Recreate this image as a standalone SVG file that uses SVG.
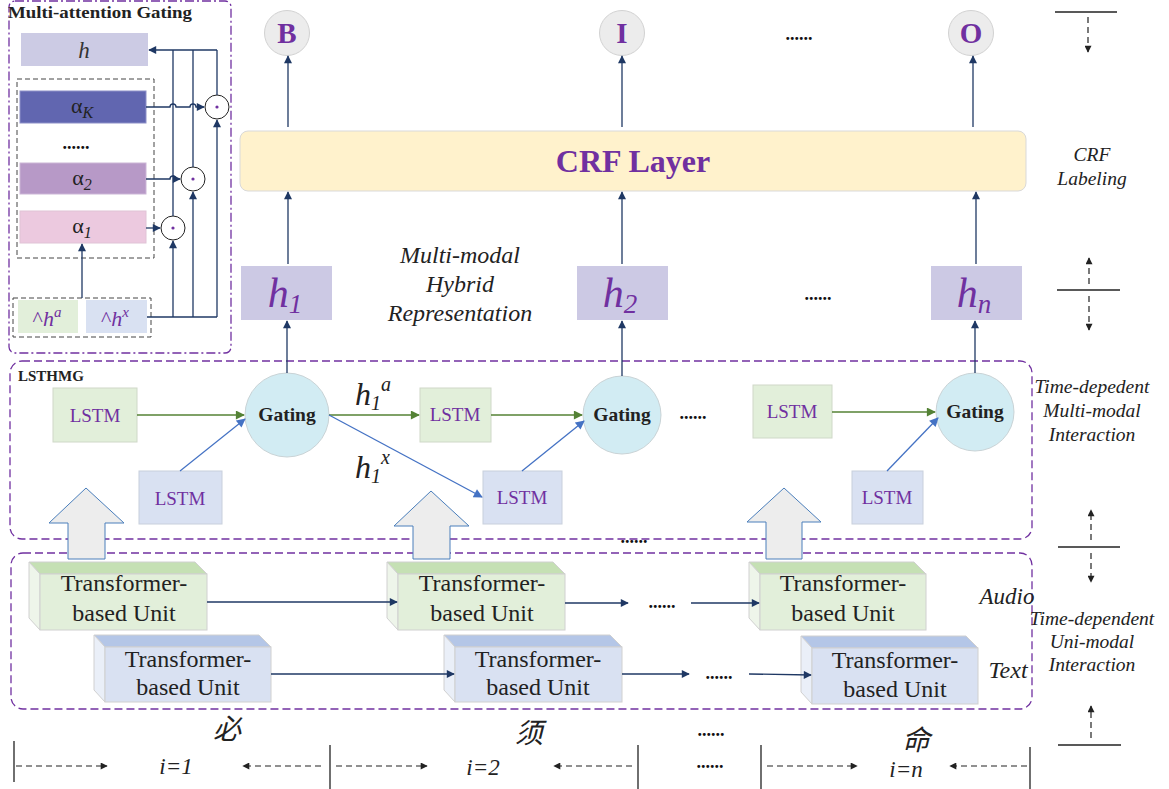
<svg xmlns="http://www.w3.org/2000/svg" width="1169" height="789" viewBox="0 0 1169 789">
<defs>
<marker id="aN" viewBox="0 0 10 10" refX="9" refY="5" markerWidth="9" markerHeight="8" markerUnits="userSpaceOnUse" orient="auto"><path d="M0,0 L10,5 L0,10 z" fill="#1f3864"/></marker>
<marker id="aG" viewBox="0 0 10 10" refX="9" refY="5" markerWidth="10" markerHeight="9" markerUnits="userSpaceOnUse" orient="auto"><path d="M0,0 L10,5 L0,10 z" fill="#548235"/></marker>
<marker id="aB" viewBox="0 0 10 10" refX="9" refY="5" markerWidth="10" markerHeight="9" markerUnits="userSpaceOnUse" orient="auto"><path d="M0,0 L10,5 L0,10 z" fill="#4472c4"/></marker>
<marker id="aK" viewBox="0 0 10 10" refX="9" refY="5" markerWidth="8" markerHeight="7" markerUnits="userSpaceOnUse" orient="auto"><path d="M0,0 L10,5 L0,10 z" fill="#222"/></marker>
</defs>
<style>
text{font-family:"Liberation Serif","Times New Roman",serif}
.nv{stroke:#1f3864;stroke-width:1.3;fill:none;marker-end:url(#aN)}
.nl{stroke:#1f3864;stroke-width:1.3;fill:none}
.gr{stroke:#548235;stroke-width:1.6;fill:none;marker-end:url(#aG)}
.bl{stroke:#4472c4;stroke-width:1.3;fill:none;marker-end:url(#aB)}
.dsh{stroke:#222;stroke-width:1.2;stroke-dasharray:6 4;fill:none;marker-end:url(#aK)}
.bar{stroke:#222;stroke-width:1.3}
.grp{fill:none;stroke:#7030a0;stroke-width:1.3;stroke-dasharray:8 4}
.lbl{fill:#7030a0;font-weight:bold;font-size:29px;text-anchor:middle}
.lstmg{fill:#e2efda;stroke:#cfd8c8;stroke-width:1}
.lstmb{fill:#d9e1f2;stroke:#c8cfdc;stroke-width:1}
.lt{fill:#7030a0;font-size:19px;text-anchor:middle}
.gate{fill:#d2ecf3;stroke:#c9d3d6;stroke-width:1}
.gt{fill:#222;font-weight:bold;font-size:19.5px;text-anchor:middle}
.hb{fill:#ccc9e4}
.ht{fill:#7030a0;font-style:italic;font-size:42px;text-anchor:middle}
.tt{fill:#222;font-size:24px;text-anchor:middle}
.it{fill:#222;font-style:italic;font-size:19.5px;text-anchor:middle}
.dots{fill:#111;font-weight:bold;font-size:18px;text-anchor:middle}
.cjk{font-family:"Liberation Serif","Noto Sans CJK SC",sans-serif;font-style:italic;font-size:28px;fill:#222;text-anchor:middle}
.ix{fill:#222;font-style:italic;font-size:23px;text-anchor:middle}
.blk{fill:#ededed;stroke:#4a7ebb;stroke-width:1}
.odot{fill:#fff;stroke:#222;stroke-width:1}
.gtop{fill:#c5e0b4;stroke:#d0d0d0}
.gside{fill:#eef5ea;stroke:#d0d0d0}
.gfront{fill:#e2efda;stroke:#d0d0d0}
.btop{fill:#b4c6e7;stroke:#d0d0d0}
.bside{fill:#eaeff8;stroke:#d0d0d0}
.bfront{fill:#d9e1f2;stroke:#d0d0d0}
</style>
<rect width="1169" height="789" fill="#fff"/>

<!-- Multi-attention gating panel -->
<g id="mag-panel">
<rect x="9" y="1" width="222" height="352" rx="6" fill="none" stroke="#7030a0" stroke-width="1.3" stroke-dasharray="9 3 2 3"/>
<text x="8" y="18" font-size="17.5" font-weight="bold" fill="#222" textLength="184" lengthAdjust="spacingAndGlyphs">Multi-attention Gating</text>
</g>
<g id="mag-h"><rect x="21" y="33" width="127" height="33" fill="#cccbe4"/><text x="84" y="58" font-size="23" font-style="italic" fill="#333" text-anchor="middle">h</text></g>
<g id="mag-alpha-group"><rect x="17" y="79" width="137" height="179" fill="none" stroke="#444" stroke-width="1" stroke-dasharray="5 3"/>
<text x="76" y="149" class="dots">......</text></g>
<g id="alphaK"><rect x="20" y="91" width="126" height="32" fill="#6166b0" stroke="#8d90c8"/><text x="82" y="113" font-size="22" fill="#222" text-anchor="middle">α<tspan font-size="16" font-style="italic" dy="5">K</tspan></text></g>
<g id="alpha2"><rect x="20" y="163" width="126" height="31" fill="#b799c7" stroke="#cbb5d6"/><text x="82" y="185" font-size="22" fill="#222" text-anchor="middle">α<tspan font-size="16" font-style="italic" dy="5">2</tspan></text></g>
<g id="alpha1"><rect x="20" y="211" width="126" height="32" fill="#ecc9df" stroke="#e0c3d6"/><text x="82" y="233" font-size="22" fill="#222" text-anchor="middle">α<tspan font-size="16" font-style="italic" dy="5">1</tspan></text></g>
<g id="hhat-group"><rect x="13" y="298" width="138" height="39" fill="none" stroke="#444" stroke-width="1" stroke-dasharray="5 3"/></g>
<g id="hhat-a"><rect x="18" y="300" width="60" height="33" fill="#e2efda"/><text x="47" y="326" font-size="22" fill="#7030a0" text-anchor="middle">^<tspan font-style="italic">h</tspan><tspan font-size="15" font-style="italic" dy="-9">a</tspan></text></g>
<g id="hhat-x"><rect x="86" y="300" width="61" height="33" fill="#d9e1f2"/><text x="115" y="326" font-size="22" fill="#7030a0" text-anchor="middle">^<tspan font-style="italic">h</tspan><tspan font-size="15" font-style="italic" dy="-9">x</tspan></text></g>
<g id="odot1"><circle cx="173" cy="228" r="12" class="odot"/><circle cx="173" cy="228" r="1.6" fill="#7030a0"/></g>
<g id="odot2"><circle cx="193" cy="179" r="12" class="odot"/><circle cx="193" cy="179" r="1.6" fill="#7030a0"/></g>
<g id="odot3"><circle cx="217" cy="107" r="12" class="odot"/><circle cx="217" cy="107" r="1.6" fill="#7030a0"/></g>

<!-- Output labels -->
<g id="B"><circle cx="287" cy="33" r="22.5" fill="#ececec" stroke="#d2d2d2"/><text x="287" y="43" class="lbl">B</text></g>
<g id="I"><circle cx="622" cy="33" r="22.5" fill="#ececec" stroke="#d2d2d2"/><text x="622" y="43" class="lbl">I</text></g>
<text x="799" y="40" class="dots">......</text>
<g id="O"><circle cx="971" cy="33" r="22.5" fill="#ececec" stroke="#d2d2d2"/><text x="971" y="43" class="lbl">O</text></g>

<g id="crf"><rect x="240" y="131" width="786" height="60" rx="8" fill="#fff2cc" stroke="#d9d9d9"/><text x="633" y="172" fill="#7030a0" font-weight="bold" font-size="32" text-anchor="middle">CRF Layer</text></g>

<g id="h1"><rect x="241" y="266" width="91" height="54" class="hb"/><text x="285" y="307" class="ht">h<tspan font-size="27" dy="6">1</tspan></text></g>
<g id="h2"><rect x="577" y="266" width="91" height="54" class="hb"/><text x="620" y="307" class="ht">h<tspan font-size="27" dy="6">2</tspan></text></g>
<text x="818" y="300" class="dots">......</text>
<g id="hn"><rect x="931" y="266" width="91" height="54" class="hb"/><text x="974" y="307" class="ht">h<tspan font-size="27" dy="6">n</tspan></text></g>
<g id="mmhr-label" fill="#222" font-style="italic" font-size="24" text-anchor="middle">
<text x="460" y="263">Multi-modal</text><text x="460" y="292">Hybrid</text><text x="460" y="321">Representation</text></g>

<!-- LSTHMG -->
<g id="lsthmg"><rect x="10" y="361" width="1022" height="178" rx="12" class="grp"/><text x="18" y="381" font-size="15" font-weight="bold" fill="#222">LSTHMG</text></g>
<g id="lstm-a1"><rect x="53" y="388" width="84" height="54" class="lstmg"/><text x="95" y="422" class="lt">LSTM</text></g>
<g id="lstm-x1"><rect x="139" y="471" width="83" height="53" class="lstmb"/><text x="180" y="505" class="lt">LSTM</text></g>
<g id="gating1"><circle cx="287" cy="415" r="42" class="gate"/><text x="287" y="421" class="gt">Gating</text></g>
<g id="lstm-a2"><rect x="420" y="388" width="71" height="54" class="lstmg"/><text x="455" y="421" class="lt">LSTM</text></g>
<g id="lstm-x2"><rect x="483" y="471" width="79" height="53" class="lstmb"/><text x="522" y="504" class="lt">LSTM</text></g>
<g id="gating2"><circle cx="622" cy="415" r="39" class="gate"/><text x="622" y="421" class="gt">Gating</text></g>
<text x="693" y="419" class="dots">......</text>
<g id="lstm-a3"><rect x="753" y="385" width="79" height="53" class="lstmg"/><text x="792" y="418" class="lt">LSTM</text></g>
<g id="lstm-x3"><rect x="852" y="471" width="71" height="53" class="lstmb"/><text x="887" y="504" class="lt">LSTM</text></g>
<g id="gating3"><circle cx="975" cy="412" r="39" class="gate"/><text x="975" y="418" class="gt">Gating</text></g>
<g id="h1a-label" fill="#222" font-style="italic"><text x="355" y="405" font-size="32">h<tspan font-size="20" dy="5">1</tspan><tspan font-size="20" dy="-19">a</tspan></text></g>
<g id="h1x-label" fill="#222" font-style="italic"><text x="355" y="478" font-size="32">h<tspan font-size="20" dy="5">1</tspan><tspan font-size="20" dy="-19">x</tspan></text></g>

<!-- Uni-modal -->
<g id="unimodal"><rect x="11" y="553" width="1021" height="156" rx="12" class="grp"/></g>
<text x="634" y="543" class="dots">......</text>

<g id="blk1"><path d="M86,488 L124,523 L105,523 L105,559 L68,559 L68,523 L49,523 Z" class="blk"/></g>
<g id="blk2"><path d="M431,491 L469,526 L450,526 L450,559 L413,559 L413,526 L394,526 Z" class="blk"/></g>
<g id="blk3"><path d="M784,488 L821,522 L802,522 L802,559 L766,559 L766,522 L747,522 Z" class="blk"/></g>

<g id="audio1"><polygon points="29,562 195,562 207,574 40,574" class="gtop"/><polygon points="29,562 40,574 40,630 29,618" class="gside"/><rect x="40" y="574" width="167" height="56" class="gfront"/><text x="124" y="591" class="tt">Transformer-</text><text x="124" y="621" class="tt">based Unit</text></g>
<g id="audio2"><polygon points="387,562 553,562 565,574 398,574" class="gtop"/><polygon points="387,562 398,574 398,630 387,618" class="gside"/><rect x="398" y="574" width="167" height="56" class="gfront"/><text x="482" y="591" class="tt">Transformer-</text><text x="482" y="621" class="tt">based Unit</text></g>
<g id="audio3"><polygon points="749,562 914,562 926,574 760,574" class="gtop"/><polygon points="749,562 760,574 760,630 749,618" class="gside"/><rect x="760" y="574" width="166" height="56" class="gfront"/><text x="843" y="591" class="tt">Transformer-</text><text x="843" y="621" class="tt">based Unit</text></g>
<g id="text1"><polygon points="94,635 259,635 271,647 105,647" class="btop"/><polygon points="94,635 105,647 105,702 94,690" class="bside"/><rect x="105" y="647" width="166" height="55" class="bfront"/><text x="188" y="667" class="tt">Transformer-</text><text x="188" y="695" class="tt">based Unit</text></g>
<g id="text2"><polygon points="444,635 610,635 622,647 455,647" class="btop"/><polygon points="444,635 455,647 455,702 444,690" class="bside"/><rect x="455" y="647" width="167" height="55" class="bfront"/><text x="538" y="667" class="tt">Transformer-</text><text x="538" y="695" class="tt">based Unit</text></g>
<g id="text3"><polygon points="801,636 966,636 978,648 812,648" class="btop"/><polygon points="801,636 812,648 812,704 801,692" class="bside"/><rect x="812" y="648" width="166" height="56" class="bfront"/><text x="895" y="668" class="tt">Transformer-</text><text x="895" y="697" class="tt">based Unit</text></g>
<text x="662" y="608" class="dots">......</text>
<text x="719" y="679" class="dots">......</text>
<text x="1007" y="604" fill="#222" font-style="italic" font-size="23" text-anchor="middle">Audio</text>
<text x="1008" y="678" fill="#222" font-style="italic" font-size="24" text-anchor="middle">Text</text>

<!-- Right side labels -->
<g id="side-labels">
<text x="1092" y="161" class="it">CRF</text><text x="1092" y="185" class="it">Labeling</text>
<text x="1092" y="393" class="it">Time-depedent</text><text x="1092" y="417" class="it">Multi-modal</text><text x="1092" y="441" class="it">Interaction</text>
<text x="1092" y="625" class="it">Time-dependent</text><text x="1092" y="648" class="it">Uni-modal</text><text x="1092" y="671" class="it">Interaction</text>
</g>

<!-- Bottom labels -->
<g id="bottom-labels">
<text x="227" y="739" class="cjk">必</text>
<text x="529" y="743" class="cjk">须</text>
<text x="916" y="750" class="cjk">命</text>
<text x="176" y="774" class="ix">i=1</text>
<text x="483" y="775" class="ix">i=2</text>
<text x="906" y="777" class="ix">i=n</text>
<text x="711" y="736" class="dots">......</text>
<text x="710" y="768" class="dots">......</text>
</g>

<!-- Connectors -->
<g id="connectors">
<line x1="82" y1="298" x2="82" y2="244" class="nv"/>
<path d="M147,317 H217" class="nl"/>
<line x1="173" y1="317" x2="173" y2="241" class="nv"/>
<line x1="193" y1="317" x2="193" y2="192" class="nv"/>
<line x1="217" y1="317" x2="217" y2="120" class="nv"/>
<path d="M173,216 V50 M193,167 V50 M217,95 V50" class="nl"/>
<path d="M217,50 H149" class="nv"/>
<path d="M146,228 H160" class="nv"/>
<path d="M146,179 H170 a3,3 0 0 1 6,0 H180" class="nv"/>
<path d="M146,107 H170 a3,3 0 0 1 6,0 H190 a3,3 0 0 1 6,0 H204" class="nv"/>
<line x1="288" y1="127" x2="288" y2="56" class="nv"/>
<line x1="622" y1="127" x2="622" y2="56" class="nv"/>
<line x1="973" y1="127" x2="973" y2="56" class="nv"/>
<line x1="288" y1="264" x2="288" y2="192" class="nv"/>
<line x1="622" y1="264" x2="622" y2="192" class="nv"/>
<line x1="976" y1="264" x2="976" y2="192" class="nv"/>
<line x1="287" y1="373" x2="287" y2="321" class="nv"/>
<line x1="622" y1="376" x2="622" y2="321" class="nv"/>
<line x1="975" y1="373" x2="975" y2="321" class="nv"/>
<line x1="137" y1="415" x2="244" y2="415" class="gr"/>
<line x1="180" y1="471" x2="245" y2="419" class="bl"/>
<line x1="329" y1="415" x2="419" y2="415" class="gr"/>
<line x1="329" y1="415" x2="482" y2="497" class="bl"/>
<line x1="491" y1="415" x2="582" y2="415" class="gr"/>
<line x1="522" y1="471" x2="584" y2="421" class="bl"/>
<line x1="832" y1="412" x2="935" y2="412" class="gr"/>
<line x1="887" y1="471" x2="938" y2="418" class="bl"/>
<line x1="207" y1="602" x2="397" y2="602" class="nv"/>
<line x1="565" y1="603" x2="628" y2="603" class="nv"/>
<line x1="691" y1="603" x2="759" y2="603" class="nv"/>
<line x1="271" y1="674" x2="454" y2="674" class="nv"/>
<line x1="622" y1="674" x2="689" y2="674" class="nv"/>
<line x1="749" y1="674" x2="811" y2="675" class="nv"/>
<line x1="14" y1="741" x2="14" y2="782" class="bar"/>
<line x1="330" y1="745" x2="330" y2="789" class="bar"/>
<line x1="638" y1="745" x2="638" y2="789" class="bar"/>
<line x1="761" y1="745" x2="761" y2="789" class="bar"/>
<line x1="1030" y1="747" x2="1030" y2="789" class="bar"/>
<line x1="16" y1="766" x2="107" y2="766" class="dsh"/>
<line x1="321" y1="766" x2="243" y2="766" class="dsh"/>
<line x1="336" y1="766" x2="427" y2="766" class="dsh"/>
<line x1="632" y1="766" x2="554" y2="766" class="dsh"/>
<line x1="767" y1="766" x2="857" y2="766" class="dsh"/>
<line x1="1027" y1="766" x2="950" y2="766" class="dsh"/>
<line x1="1055" y1="12" x2="1117" y2="12" class="bar"/>
<line x1="1088" y1="17" x2="1088" y2="52" class="dsh"/>
<line x1="1089" y1="284" x2="1089" y2="258" class="dsh"/>
<line x1="1057" y1="290" x2="1120" y2="290" class="bar"/>
<line x1="1089" y1="296" x2="1089" y2="330" class="dsh"/>
<line x1="1091" y1="540" x2="1091" y2="510" class="dsh"/>
<line x1="1058" y1="547" x2="1120" y2="547" class="bar"/>
<line x1="1091" y1="553" x2="1091" y2="582" class="dsh"/>
<line x1="1091" y1="738" x2="1091" y2="706" class="dsh"/>
<line x1="1058" y1="745" x2="1121" y2="745" class="bar"/>
</g>
</svg>
